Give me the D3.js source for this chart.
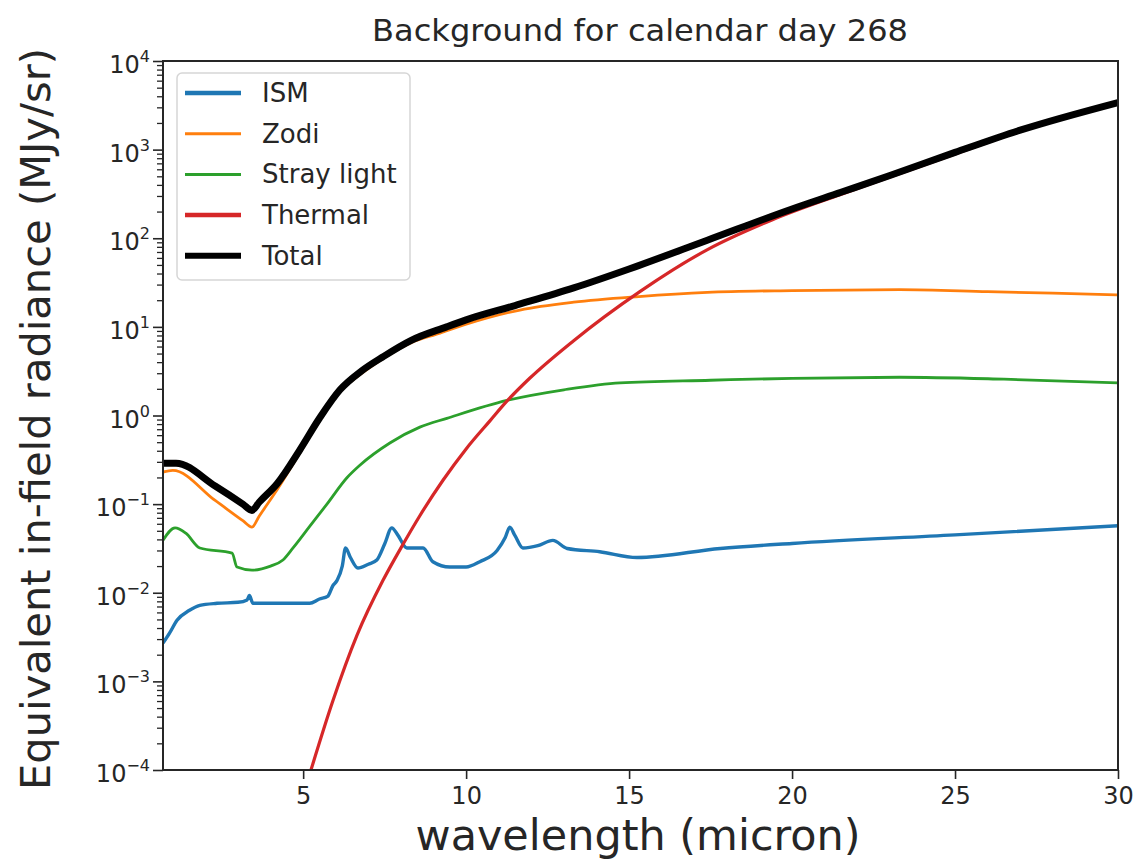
<!DOCTYPE html>
<html><head><meta charset="utf-8">
<script src="https://cdn.jsdelivr.net/npm/d3@7"></script>
<style>
body{margin:0;background:#fff}
svg{display:block}
text{font-family:"DejaVu Sans",sans-serif;fill:#262626}
</style>
</head><body>
<svg id="c" width="1138" height="862"></svg>
<script>
// ---------------- data ----------------
const seriesNames = ["ISM", "Zodi", "Stray light", "Thermal", "Total"];
const seriesColors = ["#1f77b4", "#ff7f0e", "#2ca02c", "#d62728", "#000000"];

const ismX = [0.7, 0.9, 1.13, 1.5, 1.83, 2.36, 3.0, 3.28, 3.35, 3.46, 4.2, 5.2, 5.5, 5.75, 5.91, 6.04, 6.2, 6.3, 6.45, 6.68, 7.0, 7.26, 7.5, 7.72, 7.9, 8.18, 8.68, 8.98, 9.5, 10.0, 10.42, 10.95, 11.2, 11.34, 11.5, 11.74, 12.2, 12.66, 13.1, 14.1, 15.24, 17.8, 20, 25, 30];
const ismY = [0.0027, 0.0035, 0.0049, 0.0063, 0.0072, 0.0076, 0.0078, 0.0083, 0.0093, 0.0076, 0.0076, 0.0076, 0.0085, 0.0091, 0.012, 0.0138, 0.020, 0.032, 0.025, 0.019, 0.021, 0.0234, 0.0355, 0.054, 0.045, 0.032, 0.032, 0.0224, 0.0195, 0.0195, 0.0224, 0.030, 0.042, 0.055, 0.044, 0.032, 0.034, 0.039, 0.0316, 0.029, 0.025, 0.0316, 0.036, 0.045, 0.057];

const zodiX = [0.7, 1.0, 2.3, 3.15, 3.43, 3.65, 4.2, 4.9, 5.5, 6.13, 6.8, 7.45, 8.3, 9.2, 10, 11.65, 13.3, 15.3, 17.4, 20, 23.3, 26, 28, 30];
const zodiY = [0.23, 0.24, 0.11, 0.065, 0.055, 0.073, 0.145, 0.38, 0.87, 1.86, 3.0, 4.4, 6.6, 8.5, 10.7, 15.5, 19, 22, 24.5, 25.7, 26.3, 25, 24, 23];

const strayX = [0.7, 1.07, 1.4, 1.83, 2.82, 2.97, 3.43, 4.0, 4.38, 4.69, 5.2, 5.73, 6.35, 6.74, 7.66, 8.58, 9.41, 11.25, 13, 14.72, 17.5, 20, 23.3, 26.5, 30];
const strayY = [0.039, 0.054, 0.047, 0.032, 0.028, 0.0195, 0.018, 0.020, 0.0234, 0.032, 0.056, 0.10, 0.20, 0.275, 0.49, 0.74, 0.93, 1.48, 1.95, 2.34, 2.5, 2.63, 2.7, 2.57, 2.34];

const thermX = [5.24, 5.91, 6.65, 7.45, 8.06, 8.58, 9.29, 10.0, 10.73, 11.25, 11.95, 13.28, 15.33, 17.39, 19.4, 21.47, 23, 25, 27, 30];
const thermY = [0.0001, 0.0006, 0.0033, 0.0138, 0.035, 0.074, 0.186, 0.42, 0.87, 1.45, 2.63, 6.9, 25, 74, 162, 310, 490, 890, 1620, 3300];

const totalX = [0.7, 1.1, 2.3, 3.15, 3.43, 3.65, 4.2, 4.9, 5.5, 6.13, 6.8, 7.45, 8.3, 9.4, 10, 11.5, 13.3, 15, 17.4, 20, 21.5, 23, 25, 27, 30];
const totalY = [0.29, 0.29, 0.16, 0.10, 0.085, 0.105, 0.17, 0.41, 0.93, 1.95, 3.2, 4.6, 7.0, 10, 12, 17.4, 27.5, 45, 95, 214, 330, 510, 930, 1660, 3400];

const xTicks = [5, 10, 15, 20, 25, 30];
const yExponents = [-4, -3, -2, -1, 0, 1, 2, 3, 4];
const titleText = "Background for calendar day 268";
const xLabel = "wavelength (micron)";
const yLabel = "Equivalent in-field radiance (MJy/sr)";

// ---------------- layout ----------------
const L = 163, R = 1118, T = 61, B = 770;
const svg = d3.select("#c");
const x = d3.scaleLinear().domain([0.7, 30]).range([L, R]);
const y = d3.scaleLog().domain([1e-4, 1e4]).range([B, T]);

svg.append("defs").append("clipPath").attr("id", "clip")
  .append("rect").attr("x", L).attr("y", T).attr("width", R - L).attr("height", B - T);

// lines
const seriesData = [
  {x: ismX, y: ismY, w: 3.4},
  {x: zodiX, y: zodiY, w: 2.8},
  {x: strayX, y: strayY, w: 2.8},
  {x: thermX, y: thermY, w: 3.2},
  {x: totalX, y: totalY, w: 7}
];
const line = d3.line().x(d => x(d[0])).y(d => y(d[1])).curve(d3.curveMonotoneX);
const gLines = svg.append("g").attr("clip-path", "url(#clip)");
seriesData.forEach((s, i) => {
  gLines.append("path")
    .attr("d", line(s.x.map((v, j) => [v, s.y[j]])))
    .attr("fill", "none")
    .attr("stroke", seriesColors[i])
    .attr("stroke-width", s.w)
    .attr("stroke-linejoin", "round")
    .attr("stroke-linecap", "butt");
});

// axes
const axisColor = "#262626";
const xAxis = d3.axisBottom(x).tickValues(xTicks).tickSize(9).tickPadding(8).tickFormat(d3.format("d"));
const gx = svg.append("g").attr("transform", `translate(0,${B})`).call(xAxis);
gx.select(".domain").remove();
gx.selectAll(".tick line").attr("stroke", axisColor).attr("stroke-width", 1.6);
gx.selectAll(".tick text").attr("font-size", 24).attr("font-family", "DejaVu Sans").attr("fill", axisColor);

// y major + minor ticks
const minorVals = [];
for (let e = -4; e < 4; e++) for (let k = 2; k <= 9; k++) minorVals.push(k * Math.pow(10, e));
const gy = svg.append("g").attr("transform", `translate(${L},0)`);
gy.call(d3.axisLeft(y).tickValues(minorVals).tickSize(6).tickFormat(""));
gy.select(".domain").remove();
gy.selectAll(".tick line").attr("stroke", axisColor).attr("stroke-width", 1.3);
const gy2 = svg.append("g").attr("transform", `translate(${L},0)`);
gy2.call(d3.axisLeft(y).tickValues(yExponents.map(e => Math.pow(10, e))).tickSize(10).tickFormat(""));
gy2.select(".domain").remove();
gy2.selectAll(".tick line").attr("stroke", axisColor).attr("stroke-width", 1.6);
yExponents.forEach(e => {
  const t = svg.append("text")
    .attr("x", L - 13).attr("y", y(Math.pow(10, e)) + 12)
    .attr("text-anchor", "end").attr("font-size", 24).attr("fill", axisColor);
  t.append("tspan").text("10");
  t.append("tspan").attr("dy", -11).attr("font-size", 16).text(e < 0 ? "\u2212" + (-e) : String(e));
});

// frame
svg.append("rect").attr("x", L).attr("y", T).attr("width", R - L).attr("height", B - T)
  .attr("fill", "none").attr("stroke", axisColor).attr("stroke-width", 2);

// title and labels
svg.append("text").attr("x", 640).attr("y", 41).attr("text-anchor", "middle")
  .attr("font-size", 30).attr("textLength", 536).attr("lengthAdjust", "spacingAndGlyphs").text(titleText);
svg.append("text").attr("x", 638).attr("y", 850).attr("text-anchor", "middle")
  .attr("font-size", 42).attr("textLength", 445).attr("lengthAdjust", "spacingAndGlyphs").text(xLabel);
svg.append("text").attr("transform", "translate(50,419) rotate(-90)").attr("text-anchor", "middle")
  .attr("font-size", 41).attr("textLength", 742).attr("lengthAdjust", "spacingAndGlyphs").text(yLabel);

// legend
const lg = svg.append("g");
lg.append("rect").attr("x", 177).attr("y", 73).attr("width", 233).attr("height", 207).attr("rx", 5)
  .attr("fill", "#fff").attr("fill-opacity", 0.85).attr("stroke", "#d6d6d6").attr("stroke-width", 1.5);
const legendW = [4.5, 3, 3, 4.5, 6];
seriesNames.forEach((n, i) => {
  const yy = 93 + i * 40.7;
  lg.append("line").attr("x1", 185).attr("x2", 241).attr("y1", yy).attr("y2", yy)
    .attr("stroke", seriesColors[i]).attr("stroke-width", legendW[i]);
  lg.append("text").attr("x", 262).attr("y", yy + 9).attr("font-size", 26).attr("fill", axisColor).text(n);
});
</script>
</body></html>
